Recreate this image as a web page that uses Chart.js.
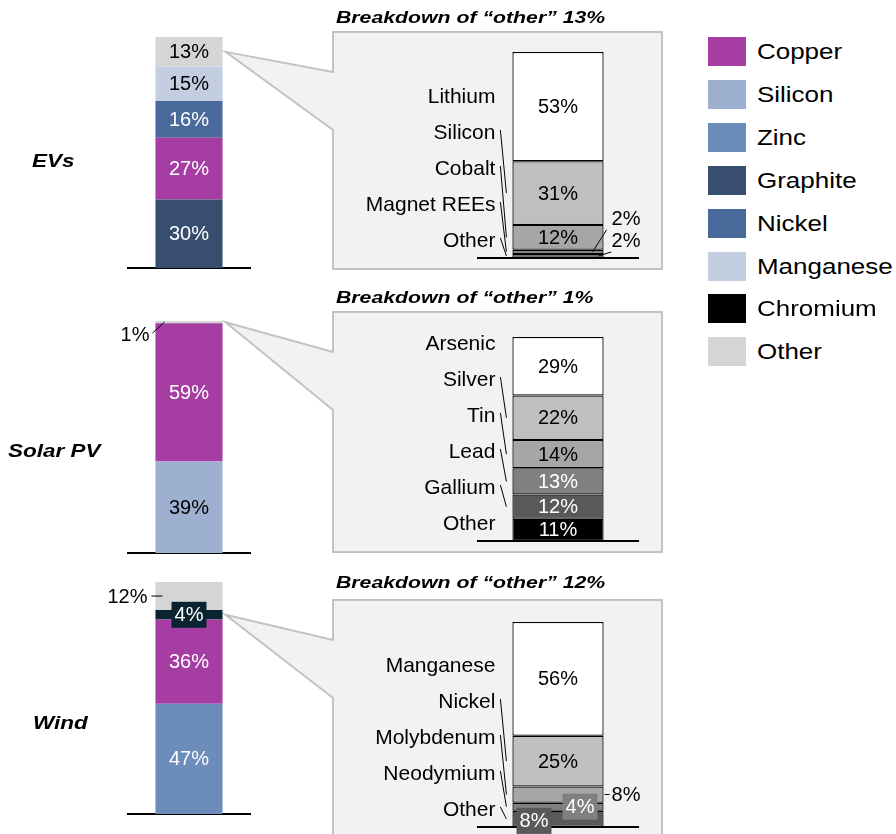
<!DOCTYPE html>
<html>
<head>
<meta charset="utf-8">
<script src="https://cdn.jsdelivr.net/npm/chart.js@4.4.1/dist/chart.umd.min.js"></script>
<style>
  html, body { margin: 0; padding: 0; background: #fff; }
  #wrap { position: relative; width: 896px; height: 834px; overflow: hidden;
          font-family: 'Liberation Sans', Arial, sans-serif; color: #000; }
  canvas { position: absolute; }
  .rowName { position: absolute; font-weight: bold; font-style: italic; font-size: 18px; line-height: 20px;
             transform: scaleX(1.25); transform-origin: left center; white-space: nowrap; }
  .title { position: absolute; left: 336px; font-weight: bold; font-style: italic; font-size: 17px; line-height: 17px;
           transform: scaleX(1.25); transform-origin: left center; white-space: nowrap; }
  .leg { position: absolute; left: 708px; height: 29px; }
  .leg span { position: absolute; left: 0; top: 0; width: 38px; height: 29px; }
  .leg b { position: absolute; left: 49px; top: 2px; font-weight: normal; font-size: 22px; line-height: 26px;
           white-space: nowrap; transform: scaleX(1.18); transform-origin: left center; }
</style>
</head>
<body>
<div id="wrap"></div>
<script>
/* Material intensity by technology, with breakdown of "other" */

const FONT = "'Liberation Sans', Arial, sans-serif";

// main bars, bottom to top
const rowNames = ['EVs', 'Solar PV', 'Wind'];
const evMaterials = ['Graphite', 'Copper', 'Nickel', 'Manganese', 'Other'];
const evShares = [30, 27, 16, 15, 13];
const solarMaterials = ['Silicon', 'Copper', 'Other'];
const solarShares = [39, 59, 1];
const windMaterials = ['Zinc', 'Copper', 'Chromium', 'Other'];
const windShares = [47, 36, 4, 12];

// breakdown of "other", top to bottom
const evOtherNames = ['Lithium', 'Silicon', 'Cobalt', 'Magnet REEs', 'Other'];
const evOtherShares = [53, 31, 12, 2, 2];
const solarOtherNames = ['Arsenic', 'Silver', 'Tin', 'Lead', 'Gallium', 'Other'];
const solarOtherShares = [29, 22, 14, 13, 12, 11];
const windOtherNames = ['Manganese', 'Nickel', 'Molybdenum', 'Neodymium', 'Other'];
const windOtherShares = [56, 25, 8, 4, 8];

const legendNames = ['Copper', 'Silicon', 'Zinc', 'Graphite', 'Nickel', 'Manganese', 'Chromium', 'Other'];

const COLORS = {
    Copper: '#a53da3',
    Silicon: '#9db0cf',
    Zinc: '#6c8cba',
    Graphite: '#374e6e',
    Nickel: '#4a6a9b',
    Manganese: '#c3cee1',
    Chromium: '#000000',
    Other: '#d5d5d5'
};
const DARK_TEXT = ['Other', 'Manganese', 'Silicon'];
const GREYS = ['#ffffff', '#bfbfbf', '#a6a6a6', '#808080', '#595959', '#000000'];

// layout per row (pixels)
const rows = [
    { top: 0, h: 280, mainPad: { top: 37, bottom: 12 }, subPad: { top: 52, bottom: 22 },
      boxTop: 32, boxBottom: 269, tip: 'Other' },
    { top: 280, h: 285, mainPad: { top: 41, bottom: 12 }, subPad: { top: 57, bottom: 24 },
      boxTop: 32, boxBottom: 272, tip: 'Other' },
    { top: 565, h: 269, mainPad: { top: 17, bottom: 20 }, subPad: { top: 57, bottom: 7 },
      boxTop: 35, boxBottom: 400, tip: 'Chromium' }
];

// special label treatments
const mainSpecial = [
    {},
    { Other: { mode: 'diag' } },
    { Other: { mode: 'tick' }, Chromium: { mode: 'box', color: '#0a2330' } }
];
const subSpecial = [
    { 'Magnet REEs': { mode: 'right', dy: -33, from: -11 }, Other: { mode: 'right', dy: -15, from: -5 } },
    {},
    { Molybdenum: { mode: 'tick' }, Neodymium: { mode: 'box', dx: 22, dy: 0 }, Other: { mode: 'box', dx: -24, dy: 2 } }
];
const barOverride = { Chromium: '#0a2330' };

const sum = arr => arr.reduce((a, b) => a + b, 0);

function text(ctx, str, x, y, color, align, size) {
    ctx.save();
    ctx.font = (size || 20) + 'px ' + FONT;
    ctx.fillStyle = color;
    ctx.textAlign = align || 'center';
    ctx.textBaseline = 'middle';
    ctx.fillText(str, x, y + 1);
    ctx.restore();
}

function line(ctx, x1, y1, x2, y2) {
    ctx.save();
    ctx.strokeStyle = '#000';
    ctx.lineWidth = 1;
    ctx.beginPath();
    ctx.moveTo(x1, y1);
    ctx.lineTo(x2, y2);
    ctx.stroke();
    ctx.restore();
}

function boxLabel(ctx, str, cx, cy, bg) {
    ctx.save();
    ctx.font = '20px ' + FONT;
    const w = ctx.measureText(str).width + 6;
    ctx.fillStyle = bg;
    ctx.fillRect(cx - w / 2, cy - 13, w, 26);
    ctx.restore();
    text(ctx, str, cx, cy, '#fff');
}

// grey callout linking the "other" segment to its breakdown box
const calloutPlugin = {
    id: 'callout',
    beforeDatasetsDraw(chart, args, o) {
        const ds = chart.data.datasets.findIndex(d => d.label === o.tip);
        const bar = chart.getDatasetMeta(ds).data[0];
        const tx = bar.x + bar.width / 2 + 3;
        const ty = (bar.y + bar.base) / 2;
        const ctx = chart.ctx;
        ctx.save();
        ctx.beginPath();
        ctx.moveTo(tx, ty);
        ctx.lineTo(333, o.top + 40);
        ctx.lineTo(333, o.top);
        ctx.lineTo(662, o.top);
        ctx.lineTo(662, o.bottom);
        ctx.lineTo(333, o.bottom);
        ctx.lineTo(333, o.top + 98);
        ctx.closePath();
        ctx.fillStyle = '#f2f2f2';
        ctx.fill();
        ctx.strokeStyle = '#c3c3c3';
        ctx.lineWidth = 2;
        ctx.stroke();
        ctx.restore();
    }
};

const mainLabels = {
    id: 'mainLabels',
    afterDatasetsDraw(chart, args, o) {
        const ctx = chart.ctx;
        chart.data.datasets.forEach((d, i) => {
            const bar = chart.getDatasetMeta(i).data[0];
            const cy = (bar.y + bar.base) / 2;
            const left = bar.x - bar.width / 2;
            const str = d.data[0] + '%';
            const sp = o.special[d.label];
            const col = DARK_TEXT.includes(d.label) ? '#000' : '#fff';
            if (!sp) {
                text(ctx, str, bar.x, cy, col);
            } else if (sp.mode === 'diag') {
                text(ctx, str, left - 6, cy + 12, '#000', 'right');
                line(ctx, left - 3, cy + 11, left + 9, cy);
            } else if (sp.mode === 'tick') {
                text(ctx, str, left - 8, cy, '#000', 'right');
                line(ctx, left - 4, cy, left + 7, cy);
            } else if (sp.mode === 'box') {
                boxLabel(ctx, str, bar.x, cy, sp.color);
            }
        });
    }
};

const subLabels = {
    id: 'subLabels',
    afterDatasetsDraw(chart, args, o) {
        const ctx = chart.ctx;
        const area = chart.chartArea;
        chart.data.datasets.forEach((d, i) => {
            const bar = chart.getDatasetMeta(i).data[0];
            const cy = (bar.y + bar.base) / 2;
            const left = bar.x - bar.width / 2;
            const right = bar.x + bar.width / 2;
            // name on the left, stacked upwards from the base
            const ny = area.bottom - 18 - 36 * i;
            text(ctx, d.label, left - 17, ny, '#000', 'right', 21);
            if (ny < bar.y || ny > bar.base) line(ctx, left - 12, ny - 2, left - 6, cy);
            const str = d.data[0] + '%';
            const col = d.greyIndex >= 3 ? '#fff' : '#000';
            const sp = o.special[d.label];
            if (!sp) {
                text(ctx, str, bar.x, cy, col);
            } else if (sp.mode === 'right') {
                text(ctx, str, right + 8, cy + sp.dy, '#000', 'left');
                line(ctx, right + sp.from, cy, right + 3 + (sp.from + 11) * 0.8, cy + sp.dy + 11);
            } else if (sp.mode === 'tick') {
                text(ctx, str, right + 8, cy, '#000', 'left');
                line(ctx, right + 1, cy, right + 6, cy);
            } else if (sp.mode === 'box') {
                boxLabel(ctx, str, bar.x + sp.dx, cy + sp.dy, d.backgroundColor);
            }
        });
    }
};

const wrap = document.getElementById('wrap');

function addCanvas(left, top, w, h) {
    const c = document.createElement('canvas');
    c.width = w;
    c.height = h;
    c.style.left = left + 'px';
    c.style.top = top + 'px';
    c.style.width = w + 'px';
    c.style.height = h + 'px';
    wrap.appendChild(c);
    return c;
}

function baseScales(max) {
    return {
        x: {
            stacked: true,
            grid: { display: false, drawTicks: false },
            ticks: { display: false },
            border: { display: true, color: '#000', width: 2 }
        },
        y: { stacked: true, display: false, min: 0, max: max }
    };
}

function mainChart(r, materials, shares) {
    const row = rows[r];
    const c = addCanvas(0, row.top, 700, row.h);
    return new Chart(c, {
        type: 'bar',
        data: {
            labels: [rowNames[r]],
            datasets: materials.map((m, i) => ({
                label: m,
                data: [shares[i]],
                backgroundColor: barOverride[m] || COLORS[m],
                borderWidth: 0,
                barPercentage: 0.55,
                categoryPercentage: 1
            }))
        },
        options: {
            responsive: false,
            animation: false,
            events: [],
            layout: { padding: { left: 128, right: 450, top: row.mainPad.top, bottom: row.mainPad.bottom } },
            scales: baseScales(sum(shares)),
            plugins: {
                legend: { display: false },
                tooltip: { enabled: false },
                callout: { tip: row.tip, top: row.boxTop, bottom: row.boxBottom },
                mainLabels: { special: mainSpecial[r] }
            }
        },
        plugins: [calloutPlugin, mainLabels]
    });
}

function subChart(r, names, shares) {
    const row = rows[r];
    const c = addCanvas(333, row.top, 329, row.h);
    const datasets = names.map((name, i) => ({
        label: name,
        data: [shares[i]],
        greyIndex: i,
        backgroundColor: GREYS[i],
        borderColor: '#000',
        borderWidth: 1.25,
        borderSkipped: false,
        barPercentage: 0.57,
        categoryPercentage: 1
    })).reverse();
    return new Chart(c, {
        type: 'bar',
        data: { labels: ['other'], datasets: datasets },
        options: {
            responsive: false,
            animation: false,
            events: [],
            layout: { padding: { left: 145, right: 24, top: row.subPad.top, bottom: row.subPad.bottom } },
            scales: baseScales(sum(shares)),
            plugins: {
                legend: { display: false },
                tooltip: { enabled: false },
                subLabels: { special: subSpecial[r] }
            }
        },
        plugins: [subLabels]
    });
}

const mainData = [[evMaterials, evShares], [solarMaterials, solarShares], [windMaterials, windShares]];
const subData = [[evOtherNames, evOtherShares], [solarOtherNames, solarOtherShares], [windOtherNames, windOtherShares]];

mainData.forEach((d, r) => mainChart(r, d[0], d[1]));
subData.forEach((d, r) => subChart(r, d[0], d[1]));

// row names and breakdown titles
const rowNamePos = [[32, 151], [8, 441], [33, 713]];
const titleTops = [9, 289, 574];
rowNames.forEach((name, r) => {
    const el = document.createElement('div');
    el.className = 'rowName';
    el.textContent = name;
    el.style.left = rowNamePos[r][0] + 'px';
    el.style.top = rowNamePos[r][1] + 'px';
    wrap.appendChild(el);

    const other = mainData[r][1][mainData[r][0].indexOf('Other')];
    const t = document.createElement('div');
    t.className = 'title';
    t.textContent = 'Breakdown of \u201cother\u201d ' + other + '%';
    t.style.top = titleTops[r] + 'px';
    wrap.appendChild(t);
});

// legend
legendNames.forEach((name, i) => {
    const el = document.createElement('div');
    el.className = 'leg';
    el.style.top = (37 + i * 42.9) + 'px';
    el.innerHTML = '<span style="background:' + COLORS[name] + '"></span><b>' + name + '</b>';
    wrap.appendChild(el);
});
</script>
</body>
</html>
